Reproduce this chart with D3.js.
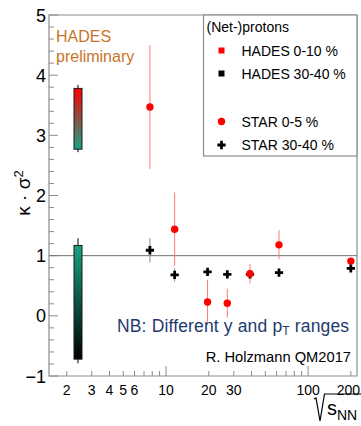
<!DOCTYPE html>
<html>
<head>
<meta charset="utf-8">
<script src="https://cdn.jsdelivr.net/npm/d3@7"></script>
<style>
  body { margin: 0; background: #fff; }
  text { font-family: "Liberation Sans", Arial, Helvetica, sans-serif; }
</style>
</head>
<body>
<div id="chart"></div>
<script>
// STAR net-proton kappa*sigma^2 vs sqrt(s_NN)
const starEnergies = [7.7, 11.5, 19.6, 27, 39, 62.4, 200];
const starCentral = [3.47, 1.44, 0.23, 0.21, 0.70, 1.18, 0.91];
const starCentralErr = [1.03, 0.61, 0.37, 0.24, 0.16, 0.24, 0.04];
const starPeripheral = [1.09, 0.68, 0.73, 0.69, 0.69, 0.72, 0.79];
const starPeripheralErr = [0.20, 0.11, 0.04, 0.03, 0.03, 0.03, 0.04];

// HADES bands at 2.4 GeV
const hadesEnergy = [2.4, 2.4];
const hadesBandLo = [2.77, -0.72];
const hadesBandHi = [3.78, 1.17];
const hadesErrLo = [2.72, -0.79];
const hadesErrHi = [3.84, 1.29];

const xTickLabels = [2, 3, 4, 5, 6, 10, 20, 30, 100, 200];
const xMinorTicks = [2, 3, 4, 5, 6, 7, 8, 9, 20, 30, 40, 50, 60, 70, 80, 90, 200];
const xMajorTicks = [10, 100];
const yTicks = [-1, 0, 1, 2, 3, 4, 5];
const legendLabels = ["HADES 0-10 %", "HADES 30-40 %", "STAR 0-5 %", "STAR 30-40 %"];

const width = 361, height = 426;
const margin = { top: 15, right: 4, bottom: 50, left: 49 };

const svg = d3.select("#chart")
    .append("svg")
    .attr("width", width)
    .attr("height", height);

const x = d3.scaleLog()
    .domain([1.5, 221])
    .range([margin.left, width - margin.right]);

const y = d3.scaleLinear()
    .domain([-1, 5])
    .range([height - margin.bottom, margin.top]);

const axisColor = "#8c8c8c";
const teal = "#17a386";

// gradients for the HADES bands
const defs = svg.append("defs");
const grads = [["g0", "#ff0000", teal], ["g1", teal, "#000000"]];
grads.forEach(g => {
    const lg = defs.append("linearGradient")
        .attr("id", g[0])
        .attr("x1", 0).attr("y1", 0).attr("x2", 0).attr("y2", 1);
    lg.append("stop").attr("offset", "0%").attr("stop-color", g[1]);
    lg.append("stop").attr("offset", "100%").attr("stop-color", g[2]);
});

// frame
const x0 = x.range()[0], x1 = x.range()[1];
const y0 = y.range()[0], y1 = y.range()[1];
svg.append("path")
    .attr("d", `M${x0},${y0}V${y1}H${x1}V${y0}Z`)
    .attr("fill", "none")
    .attr("stroke", axisColor)
    .attr("stroke-width", 1.2);

// y ticks (inward)
const yMinor = d3.range(-1, 5.01, 0.2);
svg.append("g").selectAll("line")
    .data(yMinor)
    .join("line")
    .attr("x1", x0)
    .attr("x2", d => Math.abs(d - Math.round(d)) < 1e-6 ? x0 + 9 : x0 + 5)
    .attr("y1", d => y(d))
    .attr("y2", d => y(d))
    .attr("stroke", axisColor);

svg.append("g").selectAll("text")
    .data(yTicks)
    .join("text")
    .attr("x", x0 - 3)
    .attr("y", d => y(d) + 6.5)
    .attr("text-anchor", "end")
    .attr("font-size", 18)
    .text(d => d < 0 ? "\u2212" + Math.abs(d) : d);

// x ticks (inward)
svg.append("g").selectAll("line")
    .data(xMinorTicks.concat(xMajorTicks))
    .join("line")
    .attr("x1", d => x(d))
    .attr("x2", d => x(d))
    .attr("y1", y0)
    .attr("y2", d => xMajorTicks.includes(d) ? y0 - 10 : y0 - 5)
    .attr("stroke", axisColor);

// last label sits against the right edge
svg.append("g").selectAll("text")
    .data(xTickLabels)
    .join("text")
    .attr("x", d => d === 200 ? width - 1 : x(d))
    .attr("y", 395)
    .attr("text-anchor", d => d === 200 ? "end" : "middle")
    .attr("font-size", 14)
    .text(d => d);

// reference line at 1
svg.append("line")
    .attr("x1", x0).attr("x2", x1)
    .attr("y1", y(1)).attr("y2", y(1))
    .attr("stroke", "#707070")
    .attr("stroke-width", 1);

// axis titles
svg.append("text")
    .attr("transform", `translate(30,193) rotate(-90)`)
    .attr("text-anchor", "middle")
    .attr("font-size", 19)
    .html("\u03ba \u00b7 \u03c3<tspan dy='-7' font-size='13'>2</tspan>");

svg.append("path")
    .attr("d", "M314,399 L316,398 L320,421 L324.5,394 H361")
    .attr("fill", "none")
    .attr("stroke", "#000")
    .attr("stroke-width", 1.2);
svg.append("text")
    .attr("x", 327)
    .attr("y", 415)
    .attr("font-size", 20)
    .html("s<tspan dy='5' font-size='14'>NN</tspan>");

// HADES bands
const hades = svg.append("g");
hadesEnergy.forEach((e, i) => {
    hades.append("line")
        .attr("x1", x(e)).attr("x2", x(e))
        .attr("y1", y(hadesErrHi[i])).attr("y2", y(hadesErrLo[i]))
        .attr("stroke", "#000");
    hades.append("rect")
        .attr("x", x(e) - 4)
        .attr("width", 8)
        .attr("y", y(hadesBandHi[i]))
        .attr("height", y(hadesBandLo[i]) - y(hadesBandHi[i]))
        .attr("fill", `url(#g${i})`)
        .attr("stroke", "#1a1a1a")
        .attr("stroke-width", 1);
});

// STAR error bars
svg.append("g").selectAll("line")
    .data(starEnergies)
    .join("line")
    .attr("x1", d => x(d)).attr("x2", d => x(d))
    .attr("y1", (d, i) => y(starPeripheral[i] + starPeripheralErr[i]))
    .attr("y2", (d, i) => y(starPeripheral[i] - starPeripheralErr[i]))
    .attr("stroke", "#8a8a8a");

svg.append("g").selectAll("line")
    .data(starEnergies)
    .join("line")
    .attr("x1", d => x(d)).attr("x2", d => x(d))
    .attr("y1", (d, i) => y(starCentral[i] + starCentralErr[i]))
    .attr("y2", (d, i) => y(starCentral[i] - starCentralErr[i]))
    .attr("stroke", "#ff7a7a");

const cross = d3.symbol().type(d3.symbolCross).size(38);

svg.append("g").selectAll("path")
    .data(starEnergies)
    .join("path")
    .attr("d", cross)
    .attr("transform", (d, i) => `translate(${x(d)},${y(starPeripheral[i])})`)
    .attr("fill", "#000");

svg.append("g").selectAll("circle")
    .data(starEnergies)
    .join("circle")
    .attr("cx", d => x(d))
    .attr("cy", (d, i) => y(starCentral[i]))
    .attr("r", 3.7)
    .attr("fill", "#ff0000");

// legend
const legend = svg.append("g");
legend.append("rect")
    .attr("x", 203.5).attr("y", y1)
    .attr("width", x1 - 203.5).attr("height", 141)
    .attr("fill", "#fff")
    .attr("stroke", axisColor)
    .attr("stroke-width", 1.2);
legend.append("text")
    .attr("x", 206.5).attr("y", 32)
    .attr("font-size", 14)
    .text("(Net-)protons");

const rowY = [50.5, 73.5, 121.5, 145];
legendLabels.forEach((lab, i) => {
    legend.append("text")
        .attr("x", 241.5).attr("y", rowY[i] + 5)
        .attr("font-size", 14)
        .text(lab);
});
legend.append("rect").attr("x", 218.5).attr("y", rowY[0] - 3).attr("width", 6).attr("height", 6).attr("fill", "#ff0000");
legend.append("rect").attr("x", 218.5).attr("y", rowY[1] - 3).attr("width", 6).attr("height", 6).attr("fill", "#000");
legend.append("circle").attr("cx", 221.5).attr("cy", rowY[2]).attr("r", 3.7).attr("fill", "#ff0000");
legend.append("path").attr("d", cross).attr("transform", `translate(221.5,${rowY[3]})`).attr("fill", "#000");

// annotations
svg.append("text")
    .attr("x", 56).attr("y", 41.5)
    .attr("font-size", 16)
    .attr("fill", "#c8752a")
    .text("HADES");
svg.append("text")
    .attr("x", 56).attr("y", 61.5)
    .attr("font-size", 16)
    .attr("fill", "#c8752a")
    .text("preliminary");

svg.append("text")
    .attr("x", 117).attr("y", 331.5)
    .attr("font-size", 17.5)
    .attr("letter-spacing", 0.15)
    .attr("fill", "#1d3a6e")
    .html("NB: Different y and p<tspan dy='3' font-size='12'>T</tspan><tspan dy='-3'> ranges</tspan>");

svg.append("text")
    .attr("x", 351).attr("y", 362)
    .attr("text-anchor", "end")
    .attr("font-size", 14.7)
    .text("R. Holzmann QM2017");
</script>
</body>
</html>
